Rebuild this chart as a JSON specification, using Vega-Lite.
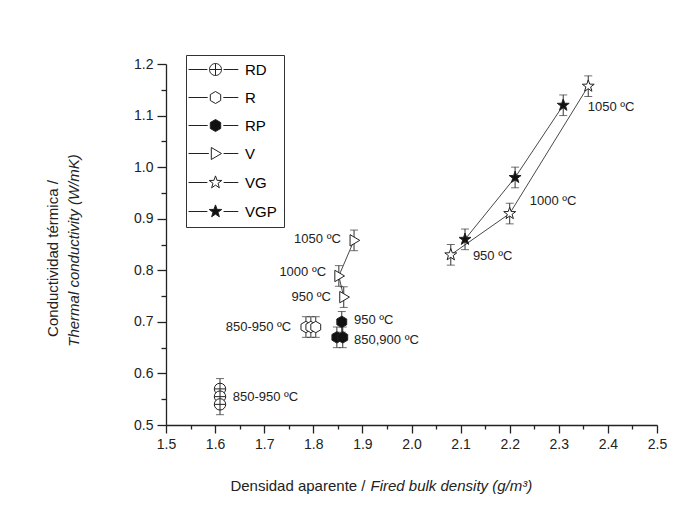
{
  "$schema": "https://vega.github.io/schema/vega-lite/v6.json",
  "autosize": "none",
  "width": 491,
  "height": 361,
  "padding": {"left": 166, "top": 64, "right": 29, "bottom": 96},
  "background": "white",
  "config": {
    "font": "Liberation Sans",
    "view": {"stroke": null},
    "axis": {"grid": false, "domainColor": "#222", "tickColor": "#222", "labelColor": "#222", "titleColor": "#222", "domainWidth": 1.3, "tickWidth": 1.3, "labelFontSize": 14, "titleFontSize": 15, "titleFontWeight": "normal", "labelFont": "Liberation Sans", "titleFont": "Liberation Sans"},
    "legend": {"labelFont": "Liberation Sans"}
  },
  "datasets": {
    "pts": [
      {"series": "RD", "temp": "850", "x": 1.61, "y": 0.57, "lo": 0.55, "hi": 0.59, "ord": 1},
      {"series": "RD", "temp": "900", "x": 1.61, "y": 0.555, "lo": 0.535, "hi": 0.575, "ord": 2},
      {"series": "RD", "temp": "950", "x": 1.61, "y": 0.54, "lo": 0.52, "hi": 0.56, "ord": 3},
      {"series": "R", "temp": "850", "x": 1.785, "y": 0.69, "lo": 0.67, "hi": 0.71, "ord": 1},
      {"series": "R", "temp": "900", "x": 1.795, "y": 0.69, "lo": 0.67, "hi": 0.71, "ord": 2},
      {"series": "R", "temp": "950", "x": 1.805, "y": 0.69, "lo": 0.67, "hi": 0.71, "ord": 3},
      {"series": "RP", "temp": "850", "x": 1.848, "y": 0.67, "lo": 0.65, "hi": 0.69, "ord": 1},
      {"series": "RP", "temp": "900", "x": 1.86, "y": 0.67, "lo": 0.65, "hi": 0.69, "ord": 2},
      {"series": "RP", "temp": "950", "x": 1.858, "y": 0.70, "lo": 0.68, "hi": 0.72, "ord": 3},
      {"series": "V", "temp": "950", "x": 1.862, "y": 0.748, "lo": 0.728, "hi": 0.768, "ord": 1},
      {"series": "V", "temp": "1000", "x": 1.852, "y": 0.789, "lo": 0.769, "hi": 0.809, "ord": 2},
      {"series": "V", "temp": "1050", "x": 1.883, "y": 0.858, "lo": 0.838, "hi": 0.878, "ord": 3},
      {"series": "VG", "temp": "950", "x": 2.08, "y": 0.83, "lo": 0.81, "hi": 0.85, "ord": 1},
      {"series": "VG", "temp": "1000", "x": 2.20, "y": 0.91, "lo": 0.89, "hi": 0.93, "ord": 2},
      {"series": "VG", "temp": "1050", "x": 2.36, "y": 1.157, "lo": 1.137, "hi": 1.177, "ord": 3},
      {"series": "VGP", "temp": "950", "x": 2.109, "y": 0.86, "lo": 0.84, "hi": 0.88, "ord": 1},
      {"series": "VGP", "temp": "1000", "x": 2.211, "y": 0.98, "lo": 0.96, "hi": 1.0, "ord": 2},
      {"series": "VGP", "temp": "1050", "x": 2.309, "y": 1.12, "lo": 1.10, "hi": 1.14, "ord": 3}
    ],
    "labels": [
      {"text": "850-950 ºC", "lx": 1.636, "ly": 0.554, "side": "L"},
      {"text": "850-950 ºC", "lx": 1.755, "ly": 0.690, "side": "R"},
      {"text": "950 ºC", "lx": 1.883, "ly": 0.703, "side": "L"},
      {"text": "850,900 ºC", "lx": 1.883, "ly": 0.665, "side": "L"},
      {"text": "950 ºC", "lx": 1.836, "ly": 0.748, "side": "R"},
      {"text": "1000 ºC", "lx": 1.826, "ly": 0.797, "side": "R"},
      {"text": "1050 ºC", "lx": 1.856, "ly": 0.860, "side": "R"},
      {"text": "950 ºC", "lx": 2.125, "ly": 0.828, "side": "L"},
      {"text": "1000 ºC", "lx": 2.241, "ly": 0.934, "side": "L"},
      {"text": "1050 ºC", "lx": 2.359, "ly": 1.116, "side": "L"}
    ]
  },
  "resolve": {"axis": {"x": "independent", "y": "independent"}},
  "layer": [
    {
      "data": {"name": "pts"},
      "mark": {"type": "line", "stroke": "#333", "strokeWidth": 0.9},
      "encoding": {
        "x": {"field": "x", "type": "quantitative", "scale": {"domain": [1.5, 2.5], "nice": false, "zero": false},
          "axis": {"orient": "bottom", "values": [1.5,1.55,1.6,1.65,1.7,1.75,1.8,1.85,1.9,1.95,2.0,2.05,2.1,2.15,2.2,2.25,2.3,2.35,2.4,2.45,2.5],
            "labelExpr": "abs(datum.value*10 - round(datum.value*10)) < 0.01 ? format(datum.value, '.1f') : ''",
            "tickSize": {"condition": {"test": "abs(datum.value*10 - round(datum.value*10)) < 0.01", "value": 8}, "value": 4},
            "labelPadding": 4, "labelFlush": false,
            "title": "Densidad aparente /", "titleAlign": "right", "titleX": 199, "titleY": 60, "titleBaseline": "middle"}},
        "y": {"field": "y", "type": "quantitative", "scale": {"domain": [0.5, 1.2], "nice": false, "zero": false},
          "axis": {"orient": "left", "values": [0.5,0.55,0.6,0.65,0.7,0.75,0.8,0.85,0.9,0.95,1.0,1.05,1.1,1.15,1.2],
            "labelExpr": "abs(datum.value*10 - round(datum.value*10)) < 0.01 ? format(datum.value, '.1f') : ''",
            "tickSize": {"condition": {"test": "abs(datum.value*10 - round(datum.value*10)) < 0.01", "value": 9}, "value": 5},
            "labelPadding": 4, "labelFlush": false,
            "title": "Conductividad térmica /", "titleAngle": -90, "titleAlign": "center", "titleBaseline": "middle", "titleX": -114, "titleY": 194}},
        "detail": {"field": "series", "type": "nominal"},
        "order": {"field": "ord", "type": "quantitative"}
      }
    },
    {
      "data": {"name": "pts"},
      "mark": {"type": "errorbar", "ticks": {"size": 8, "color": "#333", "strokeWidth": 1}, "rule": {"color": "#333", "strokeWidth": 1}},
      "encoding": {
        "x": {"field": "x", "type": "quantitative", "axis": null},
        "y": {"field": "lo", "type": "quantitative", "axis": null},
        "y2": {"field": "hi"}
      }
    },
    {
      "data": {"name": "pts"},
      "mark": {"type": "point", "size": 130, "stroke": "#222", "strokeWidth": 1, "opacity": 1},
      "encoding": {
        "x": {"field": "x", "type": "quantitative",
          "axis": {"orient": "bottom", "domain": false, "ticks": false, "labels": false, "title": "Fired bulk density (g/m³)", "titleFontStyle": "italic", "titleAlign": "left", "titleX": 204, "titleY": 60, "titleBaseline": "middle"}},
        "y": {"field": "y", "type": "quantitative",
          "axis": {"orient": "left", "domain": false, "ticks": false, "labels": false, "title": "Thermal conductivity (W/mK)", "titleFontStyle": "italic", "titleAngle": -90, "titleAlign": "center", "titleBaseline": "middle", "titleX": -93, "titleY": 186}},
        "fill": {"field": "series", "type": "nominal",
          "scale": {"domain": ["RD", "R", "RP", "V", "VG", "VGP"], "range": ["white", "white", "#111", "white", "white", "#111"]},
          "legend": {"orient": "none", "legendX": 20, "legendY": -9, "title": null, "strokeColor": "#333", "fillColor": "white", "padding": 7, "rowPadding": 11, "labelFontSize": 15, "labelOffset": 37, "symbolSize": 144, "symbolStrokeColor": "#222", "symbolStrokeWidth": 1,
            "symbolType": {"expr": "datum.value === 'RD' ? 'M-2,0H1.15M1.5,0A1,1 0 1,0 3.5,0A1,1 0 1,0 1.5,0ZM1.5,0H3.5M2.5,-1V1M3.85,0H6.3' : (datum.value === 'R' || datum.value === 'RP') ? 'M-2,0H1.2M2.5,-1L3.366,-0.5L3.366,0.5L2.5,1L1.634,0.5L1.634,-0.5ZM3.8,0H6.3' : datum.value === 'V' ? 'M-2,0H1.4M1.8,-1L3.5,0L1.8,1ZM3.85,0H6.3' : 'M-2,0H1.15M2.5,-1.1L2.759,-0.356L3.546,-0.34L2.918,0.136L3.147,0.89L2.5,0.44L1.853,0.89L2.082,0.136L1.454,-0.34L2.241,-0.356ZM3.85,0H6.3'"}}},
        "shape": {"field": "series", "type": "nominal", "legend": null,
          "scale": {"domain": ["VGP", "VG", "V", "RP", "R", "RD"],
            "range": ["M0,-1.1L0.259,-0.356L1.046,-0.34L0.418,0.136L0.647,0.89L0,0.44L-0.647,0.89L-0.418,0.136L-1.046,-0.34L-0.259,-0.356Z",
                      "M0,-1.1L0.259,-0.356L1.046,-0.34L0.418,0.136L0.647,0.89L0,0.44L-0.647,0.89L-0.418,0.136L-1.046,-0.34L-0.259,-0.356Z",
                      "M-0.7,-1L1,0L-0.7,1Z",
                      "M0,-1L0.866,-0.5L0.866,0.5L0,1L-0.866,0.5L-0.866,-0.5Z",
                      "M0,-1L0.866,-0.5L0.866,0.5L0,1L-0.866,0.5L-0.866,-0.5Z",
                      "M-1,0A1,1 0 1,0 1,0A1,1 0 1,0 -1,0ZM-1,0H1M0,-1V1"]}}
      }
    },
    {
      "data": {"name": "labels"},
      "transform": [{"filter": "datum.side === 'L'"}],
      "mark": {"type": "text", "align": "left", "baseline": "middle", "fontSize": 13, "color": "#222"},
      "encoding": {
        "x": {"field": "lx", "type": "quantitative", "axis": null},
        "y": {"field": "ly", "type": "quantitative", "axis": null},
        "text": {"field": "text"}
      }
    },
    {
      "data": {"name": "labels"},
      "transform": [{"filter": "datum.side === 'R'"}],
      "mark": {"type": "text", "align": "right", "baseline": "middle", "fontSize": 13, "color": "#222"},
      "encoding": {
        "x": {"field": "lx", "type": "quantitative", "axis": null},
        "y": {"field": "ly", "type": "quantitative", "axis": null},
        "text": {"field": "text"}
      }
    }
  ]
}
